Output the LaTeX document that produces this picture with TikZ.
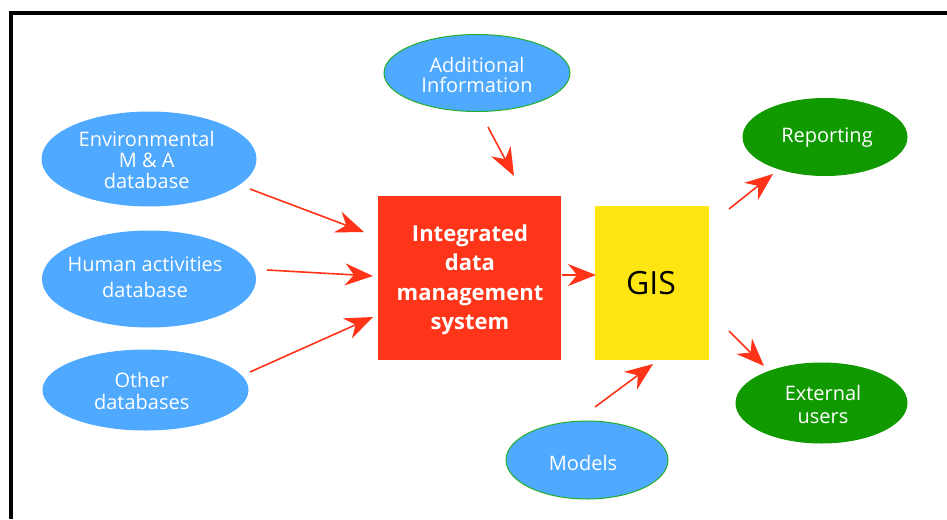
\documentclass[tikz,border=0pt]{standalone}
\usepackage{fontspec}
\setmainfont{Open Sans}
\usetikzlibrary{shapes.geometric,arrows.meta}
\definecolor{dbblue}{HTML}{4FA9FF}
\definecolor{dbgreen}{HTML}{109A00}
\definecolor{rimgreen}{HTML}{22B02A}
\definecolor{boxred}{HTML}{FF3519}
\definecolor{gisyellow}{HTML}{FFE612}
\definecolor{arrred}{HTML}{FF3318}
\begin{document}
\begin{tikzpicture}[x=1pt,y=-1pt,
  blob/.style={ellipse, fill=dbblue, draw=dbblue, line width=1pt, inner sep=0pt},
  rimblob/.style={blob, draw=rimgreen},
  outblob/.style={ellipse, fill=dbgreen, draw=dbgreen, line width=1pt, inner sep=0pt},
  blobtxt/.style={inner sep=0pt, text=white, align=center, font=\fontsize{20}{22}\selectfont},
  idmsbox/.style={rectangle, fill=boxred, inner sep=0pt, minimum width=183pt, minimum height=164pt},
  gisbox/.style={rectangle, fill=gisyellow, inner sep=0pt, minimum width=114pt, minimum height=154pt},
  arr/.style={draw=arrred, line width=1.6pt, -{Stealth[length=28pt, width=22pt, inset=9pt]}}]
\useasboundingbox (0,0) rectangle (947,519);
% frame
\draw[line width=3.2pt, black] (947,13) -- (11,13) -- (11,519);
% shapes
\node[blob, minimum width=214pt, minimum height=94pt] (env) at (149,159) {};
\node[blob, minimum width=213pt, minimum height=96pt] (human) at (149,279) {};
\node[blob, minimum width=205pt, minimum height=80pt] (other) at (145.5,390) {};
\node[rimblob, minimum width=186pt, minimum height=77pt] (addl) at (477,73) {};
\node[rimblob, minimum width=162pt, minimum height=78pt] (models) at (587,460) {};
\node[outblob, minimum width=164pt, minimum height=77pt] (rep) at (825,137) {};
\node[outblob, minimum width=171pt, minimum height=80pt] (ext) at (821.5,403) {};
\node[idmsbox] (idms) at (469.5,278) {};
\node[gisbox] (gis) at (652,283) {};
% texts
\node[blobtxt, font=\fontsize{20}{21}\selectfont] (envt) at (146.7,160) {Environmental\\M \& A\\database};
\node[blobtxt, font=\fontsize{20}{25.5}\selectfont] (humant) at (145,277.5) {Human activities\\database};
\node[blobtxt, font=\fontsize{20}{22.5}\selectfont] (othert) at (141.7,391) {Other\\databases};
\node[blobtxt, font=\fontsize{20}{20}\selectfont] (addlt) at (477,74.7) {Additional\\Information};
\node[blobtxt] (modelst) at (583,463) {Models};
\node[blobtxt] (rept) at (827,138) {Reporting};
\node[blobtxt, font=\fontsize{20}{23}\selectfont] (extt) at (823,404.5) {External\\users};
\node[inner sep=0pt, text=white, align=center, font=\bfseries\fontsize{22}{29.5}\selectfont] (idmst) at (470,279.6) {Integrated\\data\\management\\system};
\node[inner sep=0pt, text=black, font=\fontsize{32}{36}\selectfont] (gist) at (651,283.5) {GIS};
% connectors
\draw[arr] ([shift={(101,30)}]env.center) -- ([shift={(-105.5,-46)}]idms.center);
\draw[arr] ([shift={(118,-9)}]human.center) -- ([shift={(-96.5,-2)}]idms.center);
\draw[arr] ([shift={(104.5,-18)}]other.center) -- ([shift={(-96.5,39)}]idms.center);
\draw[arr] ([shift={(11,54)}]addl.center) -- ([shift={(44.5,-102)}]idms.center);
\draw[arr] ([shift={(92,-3)}]idms.center) -- ([shift={(-56,-8)}]gis.center);
\draw[arr] ([shift={(8,-53)}]models.center) -- ([shift={(1,81)}]gis.center);
\draw[arr] ([shift={(77,-74)}]gis.center) -- ([shift={(-52,37)}]rep.center);
\draw[arr] ([shift={(77,48)}]gis.center) -- ([shift={(-57.5,-37)}]ext.center);
\end{tikzpicture}
\end{document}
